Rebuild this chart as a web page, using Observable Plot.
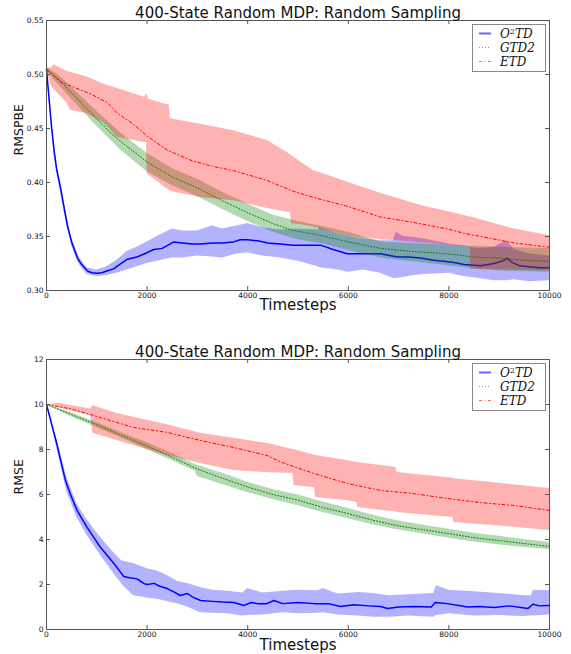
<!DOCTYPE html>
<html><head><meta charset="utf-8">
<script src="https://cdn.jsdelivr.net/npm/d3@7"></script>
<script src="https://cdn.jsdelivr.net/npm/@observablehq/plot@0.6"></script>
<style>
body{margin:0;background:#fff;}
#wrap{width:571px;}
#wrap svg{display:block;}
</style></head><body><div id="wrap"></div>
<script>
// ---------- shared ----------
const xTicks = [0, 2000, 4000, 6000, 8000, 10000];
const seriesNames = ["O2TD", "GTD2", "ETD"];
const titleText = "400-State Random MDP: Random Sampling";
const xLabel = "Timesteps";

// ---------- panel 1: RMSPBE ----------
const rmspbeTicks = [0.30, 0.35, 0.40, 0.45, 0.50, 0.55];
const rmspbeO2tdMean = [[0,0.505],[50,0.478],[100,0.452],[150,0.430],[200,0.413],[280,0.395],[350,0.377],[415,0.360],[500,0.345],[615,0.330],[700,0.324],[815,0.318],[900,0.3165],[1010,0.316],[1100,0.3165],[1200,0.318],[1335,0.320],[1450,0.324],[1610,0.329],[1800,0.331],[2000,0.335],[2130,0.338],[2300,0.339],[2530,0.345],[2700,0.344],[2900,0.343],[3060,0.343],[3300,0.344],[3500,0.344],[3720,0.345],[3850,0.347],[4000,0.347],[4200,0.346],[4400,0.344],[4650,0.343],[4900,0.342],[5200,0.342],[5450,0.342],[5700,0.338],[5980,0.334],[6300,0.334],[6640,0.334],[6980,0.331],[7200,0.331],[7435,0.330],[7700,0.328],[7900,0.327],[8100,0.326],[8300,0.324],[8630,0.323],[8900,0.325],[9100,0.328],[9160,0.330],[9250,0.326],[9400,0.323],[9600,0.322],[9800,0.321],[10000,0.321]];
const rmspbeO2tdBand = [[0,0.503,0.507],[150,0.426,0.434],[200,0.409,0.417],[350,0.373,0.381],[500,0.341,0.349],[650,0.324,0.331],[800,0.315,0.321],[1000,0.313,0.319],[1200,0.314,0.322],[1400,0.316,0.328],[1600,0.319,0.336],[1800,0.322,0.340],[2000,0.325,0.345],[2200,0.327,0.350],[2500,0.330,0.357],[2700,0.330,0.355],[3000,0.332,0.355],[3300,0.331,0.360],[3500,0.330,0.357],[3800,0.334,0.360],[4000,0.335,0.362],[4300,0.332,0.358],[4650,0.330,0.356],[5000,0.327,0.357],[5400,0.322,0.356],[5430,0.321,0.358],[5800,0.319,0.352],[6000,0.317,0.350],[6300,0.319,0.348],[6640,0.316,0.346],[6900,0.311,0.346],[6950,0.311,0.354],[7100,0.312,0.350],[7300,0.314,0.349],[7600,0.315,0.347],[8000,0.316,0.343],[8300,0.313,0.341],[8600,0.311,0.339],[8900,0.309,0.340],[9150,0.309,0.346],[9300,0.310,0.338],[9600,0.308,0.334],[10000,0.309,0.332]];
const rmspbeGtd2Mean = [[0,0.505],[250,0.495],[500,0.483],[750,0.471],[1000,0.459],[1250,0.447],[1500,0.437],[1750,0.428],[2000,0.419],[2500,0.405],[3000,0.395],[3500,0.383],[4000,0.372],[4500,0.362],[4870,0.356],[5450,0.351],[6000,0.345],[6640,0.339],[7300,0.336],[7970,0.334],[8500,0.331],[9000,0.330],[9500,0.328],[10000,0.327]];
const rmspbeGtd2Band = [[0,0.503,0.507],[250,0.490,0.499],[500,0.477,0.488],[1000,0.452,0.466],[1500,0.429,0.445],[2000,0.410,0.427],[2500,0.397,0.413],[3000,0.387,0.403],[3500,0.375,0.391],[4000,0.364,0.380],[4500,0.354,0.370],[5000,0.347,0.364],[5500,0.343,0.359],[6000,0.337,0.354],[6640,0.330,0.345],[7000,0.328,0.344],[8000,0.323,0.342],[8500,0.320,0.341],[9000,0.318,0.340],[10000,0.317,0.339]];
const rmspbeEtdMean = [[0,0.505],[250,0.494],[500,0.489],[875,0.482],[1210,0.474],[1410,0.464],[1700,0.455],[2000,0.443],[2400,0.430],[2900,0.420],[3300,0.415],[3720,0.411],[4380,0.402],[4900,0.392],[5320,0.386],[5980,0.378],[6640,0.368],[7300,0.363],[7970,0.357],[8300,0.353],[8630,0.350],[9300,0.344],[10000,0.340]];
const rmspbeEtdBand = [[0,0.505,0.505],[100,0.489,0.506],[150,0.486,0.509],[400,0.474,0.503],[475,0.467,0.502],[800,0.464,0.498],[1140,0.455,0.491],[1410,0.442,0.487],[1950,0.437,0.479],[1990,0.437,0.482],[2000,0.408,0.482],[2030,0.407,0.477],[2400,0.394,0.472],[2440,0.393,0.472],[2460,0.392,0.459],[3060,0.386,0.454],[3720,0.383,0.448],[4390,0.376,0.439],[4850,0.372,0.426],[4870,0.362,0.425],[5300,0.359,0.411],[5500,0.356,0.408],[6000,0.350,0.400],[6640,0.347,0.390],[7000,0.346,0.385],[7500,0.344,0.378],[8000,0.342,0.373],[8420,0.340,0.368],[8440,0.320,0.368],[9300,0.319,0.357],[10000,0.318,0.351]];

// ---------- panel 2: RMSE ----------
const rmseTicks = [0, 2, 4, 6, 8, 10, 12];
const rmseO2tdMean = [[0,10],[100,9.15],[200,8.3],[300,7.35],[378,6.62],[477,6.0],[610,5.28],[810,4.53],[1075,3.64],[1340,2.93],[1535,2.36],[1650,2.3],[1800,2.25],[1940,2.04],[2000,2.0],[2140,2.05],[2250,1.92],[2400,1.82],[2550,1.65],[2660,1.51],[2800,1.6],[2900,1.45],[3060,1.29],[3300,1.25],[3500,1.22],[3720,1.2],[3930,1.07],[4070,1.2],[4200,1.15],[4380,1.15],[4520,1.29],[4700,1.15],[5000,1.2],[5320,1.15],[5600,1.15],[5850,1.02],[6110,1.1],[6400,1.05],[6640,1.02],[6780,0.93],[7000,1.0],[7300,1.02],[7650,1.0],[7730,1.2],[7970,1.15],[8370,1.0],[8600,1.02],[8900,0.98],[9200,1.05],[9570,0.93],[9670,1.12],[9800,1.05],[10000,1.07]];
const rmseO2tdBand = [[0,10,10],[200,8.1,8.5],[400,6.15,6.8],[600,5.0,5.6],[800,4.2,4.9],[1075,3.29,4.09],[1300,2.6,3.5],[1500,2.0,3.05],[1730,1.5,2.93],[2000,1.4,2.7],[2200,1.35,2.6],[2400,1.25,2.4],[2600,1.15,2.15],[2800,1.0,2.05],[3060,0.75,1.87],[3300,0.72,1.75],[3600,0.7,1.7],[3900,0.6,1.62],[4000,0.62,1.82],[4300,0.65,1.62],[4700,0.75,1.7],[5000,0.7,1.75],[5400,0.72,1.72],[5500,0.75,1.82],[5800,0.65,1.58],[6200,0.6,1.65],[6500,0.55,1.6],[6800,0.55,1.5],[7200,0.6,1.55],[7700,0.55,1.6],[7750,0.62,1.95],[8000,0.7,1.75],[8500,0.6,1.68],[9000,0.62,1.6],[9500,0.58,1.5],[9640,0.6,1.5],[9680,0.6,1.75],[10000,0.65,1.72]];
const rmseGtd2Mean = [[0,10],[500,9.55],[1000,9.1],[1500,8.62],[2000,8.15],[2500,7.65],[3000,7.13],[3500,6.72],[4000,6.33],[4500,6.0],[5000,5.75],[5500,5.42],[6000,5.15],[6500,4.85],[7000,4.6],[7500,4.43],[8000,4.26],[8500,4.08],[9000,3.95],[9500,3.82],[10000,3.69]];
const rmseGtd2Band = [[0,10,10],[500,9.45,9.62],[1000,8.98,9.2],[1500,8.5,8.75],[2000,8.0,8.3],[2500,7.5,7.82],[2950,7.05,7.35],[3000,6.8,7.3],[3500,6.45,6.95],[4000,6.08,6.55],[4500,5.78,6.22],[5000,5.5,5.98],[5500,5.2,5.67],[6000,4.92,5.38],[6500,4.65,5.08],[7000,4.42,4.82],[7500,4.24,4.63],[8000,4.06,4.46],[8500,3.89,4.28],[9000,3.76,4.14],[9500,3.64,4.0],[10000,3.54,3.87]];
const rmseEtdMean = [[0,10],[500,9.8],[1070,9.42],[1730,8.98],[2400,8.76],[3060,8.4],[3720,8.09],[4390,7.73],[4650,7.45],[4900,7.25],[5320,6.93],[5980,6.49],[6640,6.18],[7300,6.04],[7970,5.82],[8630,5.64],[9300,5.51],[10000,5.29]];
const rmseEtdBand = [[0,10,10],[250,9.85,10.04],[880,9.5,9.8],[920,8.72,9.96],[1400,8.4,9.6],[2000,8.0,9.3],[2400,7.73,9.1],[3060,7.38,8.72],[3720,7.07,8.5],[4400,6.97,8.27],[4900,6.93,8.0],[4920,6.4,8.0],[5330,6.3,7.75],[5350,5.87,7.73],[6000,5.72,7.5],[6170,5.64,7.42],[6190,5.42,7.42],[6950,5.22,7.2],[6970,5.2,6.98],[8080,4.98,6.72],[8100,4.76,6.7],[9000,4.6,6.5],[10000,4.4,6.27]];

// ---------- helpers ----------
const toRows = (pairs) => pairs.map(([t, v]) => ({t, v}));
const toBand = (tr) => tr.map(([t, lo, hi]) => ({t, lo, hi}));
const colors = {O2TD: "#0000ff", GTD2: "#008000", ETD: "#ff0000"};

function panel(cfg) {
  const W = 571, H = 327, ml = 46, mr = 22;
  const innerW = W - ml - mr, innerH = H - cfg.mt - cfg.mb;
  const tickStroke = "#555";
  const chart = Plot.plot({
    width: W, height: H,
    marginTop: cfg.mt, marginBottom: cfg.mb, marginLeft: ml, marginRight: mr,
    style: {fontFamily: "DejaVu Sans", background: "white", overflow: "visible", color: "#111"},
    x: {domain: [0, 10000]},
    y: {domain: cfg.yDomain},
    marks: [
      Plot.areaY(toBand(cfg.o2tdBand), {x: "t", y1: "lo", y2: "hi", fill: colors.O2TD, fillOpacity: 0.3}),
      Plot.lineY(toRows(cfg.o2tdMean), {x: "t", y: "v", stroke: colors.O2TD, strokeWidth: 1.5}),
      Plot.areaY(toBand(cfg.gtd2Band), {x: "t", y1: "lo", y2: "hi", fill: colors.GTD2, fillOpacity: 0.3}),
      Plot.lineY(toRows(cfg.gtd2Mean), {x: "t", y: "v", stroke: colors.GTD2, strokeWidth: 1, strokeDasharray: "1,2"}),
      Plot.areaY(toBand(cfg.etdBand), {x: "t", y1: "lo", y2: "hi", fill: colors.ETD, fillOpacity: 0.3}),
      Plot.lineY(toRows(cfg.etdMean), {x: "t", y: "v", stroke: colors.ETD, strokeWidth: 1, strokeDasharray: "3,2.5,1,2.5"}),
      Plot.frame({stroke: tickStroke}),
      Plot.tickX(xTicks, {x: d => d, insetTop: innerH - 4, stroke: tickStroke}),
      Plot.tickX(xTicks, {x: d => d, insetBottom: innerH - 4, stroke: tickStroke}),
      Plot.tickY(cfg.yTicks, {y: d => d, insetRight: innerW - 4, stroke: tickStroke}),
      Plot.tickY(cfg.yTicks, {y: d => d, insetLeft: innerW - 4, stroke: tickStroke}),
      Plot.axisX(xTicks, {anchor: "bottom", tickSize: 0, tickPadding: cfg.xPad, fontSize: 7.5, label: null, tickFormat: d3.format("d")}),
      Plot.axisY(cfg.yTicks, {anchor: "left", tickSize: 0, tickPadding: 3, fontSize: 7.5, label: null, tickFormat: cfg.yFormat}),
      Plot.text([titleText], {frameAnchor: "top", dy: -3, lineAnchor: "bottom", fontSize: 15, fill: "#111"}),
      Plot.text([xLabel], {frameAnchor: "bottom", dy: cfg.xlabDy, lineAnchor: "middle", fontSize: 15, fill: "#111"}),
      Plot.text([cfg.ylabel], {frameAnchor: "left", dx: -28, rotate: -90, lineAnchor: "middle", fontSize: 12.5, fill: "#111"})
    ]
  });

  // legend (upper right, inside the frame)
  const svg = d3.select(chart);
  const bx = W - mr - 4 - 73, by = cfg.mt + 4;
  const g = svg.append("g").attr("class", "legend").attr("text-anchor", "start");
  g.append("rect").attr("x", bx + 0.5).attr("y", by + 0.5).attr("width", 73).attr("height", 47)
    .attr("fill", "white").attr("stroke", "#888").attr("stroke-width", 1);
  const dashes = {O2TD: null, GTD2: "1,2", ETD: "3,2.5,1,2.5"};
  const widths = {O2TD: 2, GTD2: 1, ETD: 1};
  seriesNames.forEach((name, i) => {
    const cy = by + 9.5 + i * 14;
    g.append("line").attr("x1", bx + 7).attr("x2", bx + 19).attr("y1", cy).attr("y2", cy)
      .attr("stroke", colors[name]).attr("stroke-opacity", 0.6).attr("stroke-width", widths[name])
      .attr("stroke-dasharray", dashes[name]);
    const t = g.append("text").attr("x", bx + 28).attr("y", cy + 4).attr("text-anchor", "start")
      .attr("font-family", "DejaVu Serif").attr("font-style", "italic").attr("font-size", 12).attr("fill", "#111");
    if (name === "O2TD") {
      t.append("tspan").text("O");
      t.append("tspan").attr("font-size", 8).attr("dy", -4).attr("font-style", "normal").text("2");
      t.append("tspan").attr("dy", 4).text("TD");
    } else {
      t.text(name);
    }
  });
  return chart;
}

const wrap = document.getElementById("wrap");
wrap.appendChild(panel({
  mt: 20, mb: 37, yDomain: [0.30, 0.55], yTicks: rmspbeTicks, yFormat: d3.format(".2f"),
  ylabel: "RMSPBE", xPad: 2.5, xlabDy: 15,
  o2tdMean: rmspbeO2tdMean, o2tdBand: rmspbeO2tdBand,
  gtd2Mean: rmspbeGtd2Mean, gtd2Band: rmspbeGtd2Band,
  etdMean: rmspbeEtdMean, etdBand: rmspbeEtdBand
}));
wrap.appendChild(panel({
  mt: 32, mb: 25, yDomain: [0, 12], yTicks: rmseTicks, yFormat: d3.format("d"),
  ylabel: "RMSE", xPad: 2, xlabDy: 16,
  o2tdMean: rmseO2tdMean, o2tdBand: rmseO2tdBand,
  gtd2Mean: rmseGtd2Mean, gtd2Band: rmseGtd2Band,
  etdMean: rmseEtdMean, etdBand: rmseEtdBand
}));
</script>
</body></html>
